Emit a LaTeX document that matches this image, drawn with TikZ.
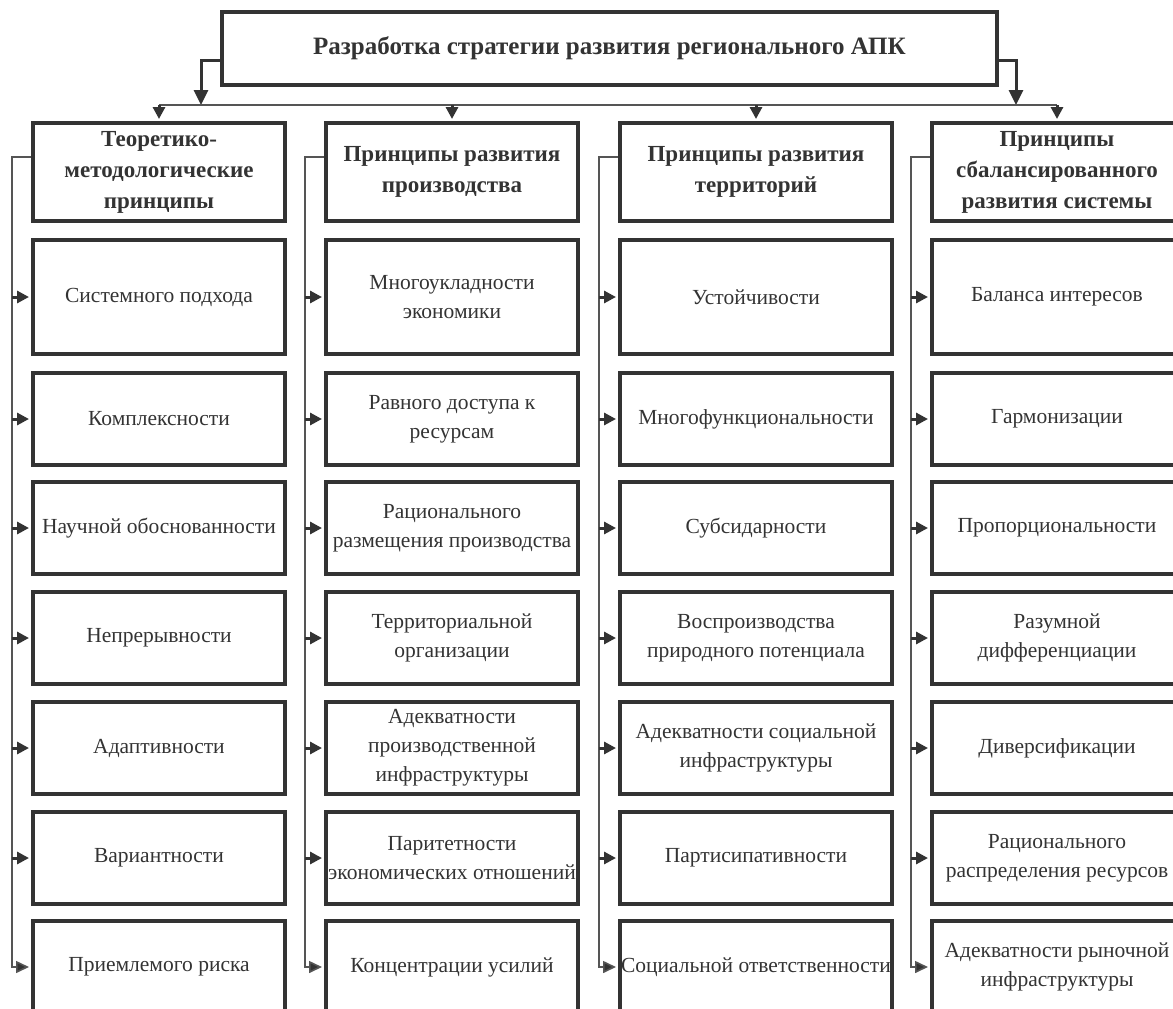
\documentclass[tikz,border=0pt]{standalone}
\usepackage{fontspec}
\setmainfont{Liberation Serif}
\usetikzlibrary{arrows.meta}
\definecolor{ink}{HTML}{333333}
\definecolor{wire}{HTML}{555555}

\begin{document}
\begin{tikzpicture}[x=1pt, y=-1pt,
        box/.style={draw=ink, line width=4pt, minimum width=252pt, minimum height=92pt, inner sep=0pt, align=center, text=ink, font=\fontsize{21.5}{29}\selectfont},
        wide/.style={minimum width=272pt},
        head/.style={box, minimum height=98pt, font=\bfseries\fontsize{23}{31}\selectfont},
        arr/.style={draw=wire, line width=1.6pt, -{Triangle[length=13pt, width=12pt, fill=ink]}, shorten >=2pt},
        stub/.style={arr, draw=ink, line width=3pt, -{Triangle[length=12pt, width=12pt]}},
        link/.style={draw=wire, line width=1.6pt},
        big/.style={draw=ink, line width=3pt, -{Triangle[length=15pt, width=14pt]}}
    ]
        \useasboundingbox (0, 0) rectangle (1173, 1009);
        \clip (0, 0) rectangle (1173, 1009);

        % Nodes
        \node[box, minimum width=775pt, minimum height=73pt, font=\bfseries\fontsize{25}{30}\selectfont] at (609.5, 48.5) (top) {Разработка стратегии развития регионального АПК};

        \node[head] at (159, 172)  (h1) {Теоретико-\\методологические\\принципы};
        \node[head] at (452, 172)  (h2) {Принципы развития\\производства};
        \node[head, wide] at (756, 172)  (h3) {Принципы развития\\территорий};
        \node[head, minimum width=250pt] at (1057, 172)  (h4) {Принципы\\сбалансированного\\развития системы};

        % column 1
        \node[box, minimum height=114pt] at (159, 297)  (a1) {Системного подхода};
        \node[box] at (159, 419)  (a2) {Комплексности};
        \node[box] at (159, 528)  (a3) {Научной обоснованности};
        \node[box] at (159, 638)  (a4) {Непрерывности};
        \node[box] at (159, 748)  (a5) {Адаптивности};
        \node[box] at (159, 858)  (a6) {Вариантности};
        \node[box] at (159, 967)  (a7) {Приемлемого риска};

        % column 2
        \node[box, minimum height=114pt] at (452, 297)  (b1) {Многоукладности\\экономики};
        \node[box] at (452, 419)  (b2) {Равного доступа к\\ресурсам};
        \node[box] at (452, 528)  (b3) {Рационального\\размещения производства};
        \node[box] at (452, 638)  (b4) {Территориальной\\организации};
        \node[box] at (452, 748)  (b5) {Адекватности\\производственной\\инфраструктуры};
        \node[box] at (452, 858)  (b6) {Паритетности\\экономических отношений};
        \node[box] at (452, 967)  (b7) {Концентрации усилий};

        % column 3
        \node[box, wide, minimum height=114pt] at (756, 297)  (c1) {Устойчивости};
        \node[box, wide] at (756, 419)  (c2) {Многофункциональности};
        \node[box, wide] at (756, 528)  (c3) {Субсидарности};
        \node[box, wide] at (756, 638)  (c4) {Воспроизводства\\природного потенциала};
        \node[box, wide] at (756, 748)  (c5) {Адекватности социальной\\инфраструктуры};
        \node[box, wide] at (756, 858)  (c6) {Партисипативности};
        \node[box, wide] at (756, 967)  (c7) {Социальной ответственности};

        % column 4
        \node[box, minimum width=250pt, minimum height=114pt] at (1057, 297)  (d1) {Баланса интересов};
        \node[box, minimum width=250pt] at (1057, 419)  (d2) {Гармонизации};
        \node[box, minimum width=250pt] at (1057, 528)  (d3) {Пропорциональности};
        \node[box, minimum width=250pt] at (1057, 638)  (d4) {Разумной\\дифференциации};
        \node[box, minimum width=250pt] at (1057, 748)  (d5) {Диверсификации};
        \node[box, minimum width=250pt] at (1057, 858)  (d6) {Рационального\\распределения ресурсов};
        \node[box, minimum width=250pt] at (1057, 967)  (d7) {Адекватности рыночной\\инфраструктуры};

        % top bus
        \coordinate (tl) at (201, 60);
        \coordinate (tr) at (1016, 60);
        \coordinate (bus) at (0, 105);

        \draw[big]  (top.west |- tl) -- (tl) -- (tl |- bus);
        \draw[big]  (top.east |- tr) -- (tr) -- (tr |- bus);
        \draw[link] (h1.north |- bus) -- (h4.north |- bus);
        \draw[stub] (h1.north |- bus) -- (h1.north);
        \draw[stub] (h2.north |- bus) -- (h2.north);
        \draw[stub] (h3.north |- bus) -- (h3.north);
        \draw[stub] (h4.north |- bus) -- (h4.north);

        % side lines
        \coordinate (s1) at (12, 157);
        \coordinate (s2) at (305, 157);
        \coordinate (s3) at (599, 157);
        \coordinate (s4) at (911, 157);

        \draw[arr]  (h1.west |- s1) -- (s1) |- (a7.west);
        \draw[arr]  (h2.west |- s2) -- (s2) |- (b7.west);
        \draw[arr]  (h3.west |- s3) -- (s3) |- (c7.west);
        \draw[arr]  (h4.west |- s4) -- (s4) |- (d7.west);

        \draw[stub] (s1 |- a1) -- (a1);  \draw[stub] (s2 |- b1) -- (b1);
        \draw[stub] (s1 |- a2) -- (a2);  \draw[stub] (s2 |- b2) -- (b2);
        \draw[stub] (s1 |- a3) -- (a3);  \draw[stub] (s2 |- b3) -- (b3);
        \draw[stub] (s1 |- a4) -- (a4);  \draw[stub] (s2 |- b4) -- (b4);
        \draw[stub] (s1 |- a5) -- (a5);  \draw[stub] (s2 |- b5) -- (b5);
        \draw[stub] (s1 |- a6) -- (a6);  \draw[stub] (s2 |- b6) -- (b6);

        \draw[stub] (s3 |- c1) -- (c1);  \draw[stub] (s4 |- d1) -- (d1);
        \draw[stub] (s3 |- c2) -- (c2);  \draw[stub] (s4 |- d2) -- (d2);
        \draw[stub] (s3 |- c3) -- (c3);  \draw[stub] (s4 |- d3) -- (d3);
        \draw[stub] (s3 |- c4) -- (c4);  \draw[stub] (s4 |- d4) -- (d4);
        \draw[stub] (s3 |- c5) -- (c5);  \draw[stub] (s4 |- d5) -- (d5);
        \draw[stub] (s3 |- c6) -- (c6);  \draw[stub] (s4 |- d6) -- (d6);

    \end{tikzpicture}
\end{document}
